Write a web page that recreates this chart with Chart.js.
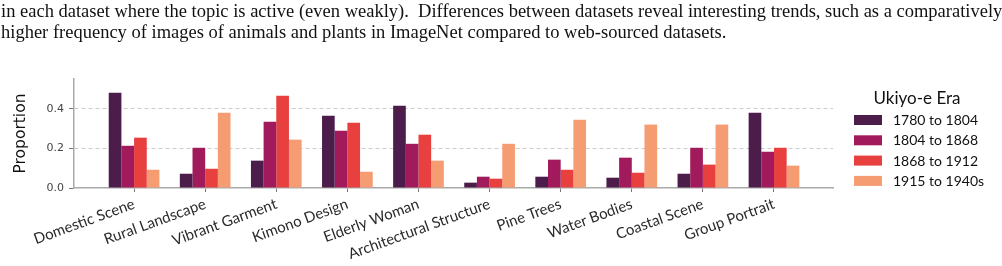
<!DOCTYPE html>
<html>
<head>
<meta charset="utf-8">
<script src="https://cdn.jsdelivr.net/npm/chart.js@4"></script>
<style>
  html, body { margin: 0; padding: 0; background: #fff; }
  #wrap { position: relative; width: 1002px; height: 266px; overflow: hidden; }
  #chart { position: absolute; left: 0; top: 0; }
  .para { position: absolute; left: 1px; width: 981px; font-family: "Liberation Serif", serif;
          font-size: 18.5px; line-height: 20px; color: #111; white-space: nowrap; }
  .l1 { top: 1px; text-align: justify; text-align-last: justify; }
  .l2 { top: 22px; }
</style>
</head>
<body>
<div id="wrap">
  <canvas id="chart" width="1002" height="266"></canvas>
  <div class="para l1">in each dataset where the topic is active (even weakly).&nbsp; Differences between datasets reveal interesting trends, such as a comparatively</div>
  <div class="para l2">higher frequency of images of animals and plants in ImageNet compared to web-sourced datasets.</div>
</div>
<script>
// categorias e valores
const categories = ['Domestic Scene', 'Rural Landscape', 'Vibrant Garment', 'Kimono Design', 'Elderly Woman',
  'Architectural Structure', 'Pine Trees', 'Water Bodies', 'Coastal Scene', 'Group Portrait'];
const eras = ['1780 to 1804', '1804 to 1868', '1868 to 1912', '1915 to 1940s'];
const era1780 = [0.481, 0.072, 0.138, 0.365, 0.415, 0.027, 0.057, 0.052, 0.072, 0.380];
const era1804 = [0.213, 0.203, 0.334, 0.289, 0.223, 0.057, 0.143, 0.153, 0.203, 0.183];
const era1868 = [0.254, 0.097, 0.465, 0.329, 0.269, 0.047, 0.092, 0.077, 0.118, 0.203];
const era1915 = [0.092, 0.380, 0.244, 0.082, 0.138, 0.223, 0.345, 0.320, 0.320, 0.113];
const yTicks = [0, 0.2, 0.4];
const colors = ['#4c1d4b', '#a11a5b', '#e83f3f', '#f69c73'];
const legendTitle = 'Ukiyo-e Era';

const series = [era1780, era1804, era1868, era1915];

// legenda desenhada à mão (como no matplotlib)
const eraLegend = {
  id: 'eraLegend',
  afterDraw(chart) {
    const ctx = chart.ctx;
    ctx.save();
    ctx.fillStyle = '#111';
    ctx.font = '17px Lato';
    ctx.textAlign = 'center';
    ctx.textBaseline = 'middle';
    ctx.fillText(legendTitle, 917, 99);
    ctx.textAlign = 'left';
    ctx.font = '14px Lato';
    chart.data.datasets.forEach((ds, i) => {
      const y = 120 + i * 20.3;
      ctx.fillStyle = ds.backgroundColor;
      ctx.fillRect(854, y - 5, 28, 10);
      ctx.fillStyle = '#111';
      ctx.fillText(ds.label, 893, y + 0.5);
    });
    ctx.restore();
  }
};

new Chart(document.getElementById('chart'), {
  type: 'bar',
  data: {
    datasets: series.map((vals, i) => ({
      label: eras[i],
      data: vals.map((v, j) => ({ x: j, y: v })),
      backgroundColor: colors[i],
      borderWidth: 0,
      categoryPercentage: 0.713,
      barPercentage: 1
    }))
  },
  options: {
    responsive: false,
    animation: false,
    layout: { padding: { top: 79, right: 169, left: 0, bottom: 0 } },
    plugins: { legend: { display: false }, tooltip: { enabled: false } },
    scales: {
      x: {
        type: 'linear',
        offset: false,
        min: -0.845,
        max: 9.83,
        afterBuildTicks: s => { s.ticks = categories.map((c, i) => ({ value: i })); },
        afterFit: s => { s.height = 78; },
        grid: { offset: false, drawOnChartArea: false, drawTicks: true, tickLength: 4, tickColor: '#777', tickWidth: 1 },
        border: { color: '#aaa', width: 1.5 },
        ticks: {
          autoSkip: false,
          minRotation: 20,
          maxRotation: 20,
          padding: 3,
          color: '#2a2a2a',
          font: { family: 'Lato', size: 15 },
          callback: v => categories[v]
        }
      },
      y: {
        min: 0,
        max: 0.55,
        afterBuildTicks: s => { s.ticks = yTicks.map(v => ({ value: v })); },
        afterFit: s => { s.width = 74; },
        grid: {
          color: ctx => ctx.tick && ctx.tick.value === 0 ? 'rgba(0,0,0,0)' : '#cccccc',
          lineWidth: 1,
          tickColor: '#777',
          tickLength: 5,
          tickWidth: 1
        },
        border: { color: '#aaa', width: 1.5, dash: [4, 3] },
        ticks: {
          padding: 5,
          color: '#444',
          font: { family: 'DejaVu Sans', size: 11 },
          callback: v => v.toFixed(1)
        },
        title: {
          display: true,
          text: 'Proportion',
          color: '#111',
          font: { family: 'DejaVu Sans', size: 15.5 },
          padding: { top: 12, bottom: 0 }
        }
      }
    }
  },
  plugins: [eraLegend]
});
</script>
</body>
</html>
